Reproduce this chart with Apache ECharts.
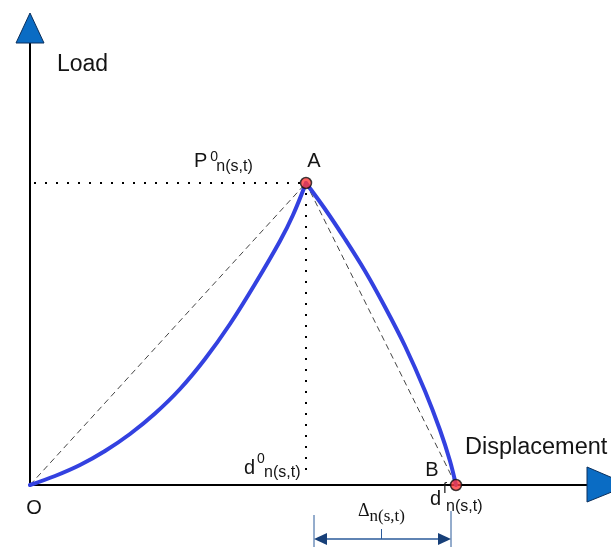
<!DOCTYPE html>
<html>
<head>
<meta charset="utf-8">
<script src="https://cdn.jsdelivr.net/npm/echarts@6/dist/echarts.min.js"></script>
<style>
  html, body { margin: 0; padding: 0; background: #fff; }
  #chart { width: 611px; height: 548px; }
</style>
</head>
<body>
<div id="chart"></div>
<script>
// Load–displacement law of a cohesive link:
// hardening branch O -> A (peak), softening branch A -> B (failure).
const peakDisp = 2.76;   // d0 n(s,t)
const peakLoad = 3.02;   // P0 n(s,t)
const failDisp = 4.26;   // df n(s,t)
const xMax = 5.57;
const yMax = 4.42;

// Hardening branch, O to A
const hardeningBranch = [
  [0, 0], [0.25, 0.09], [0.50, 0.20], [0.75, 0.34], [1.00, 0.51],
  [1.25, 0.715], [1.50, 0.96], [1.75, 1.26], [2.00, 1.61], [2.25, 2.01],
  [2.50, 2.44], [2.63, 2.70], [2.76, 3.02]
];
// Softening branch, A to B
const softeningBranch = [
  [2.76, 3.02], [2.95, 2.76], [3.15, 2.46], [3.35, 2.14], [3.55, 1.78],
  [3.75, 1.39], [3.95, 0.94], [4.10, 0.55], [4.20, 0.24], [4.26, 0]
];

const axisNames = ['Load', 'Displacement'];
const pointNames = ['O', 'A', 'B'];
const subIndex = 'n(s,t)';

const SANS = '"Liberation Sans", Arial, sans-serif';
const SERIF = '"Liberation Serif", "Times New Roman", serif';
const INK = '#141414';
const CURVE = '#3341e0';
const ARROW_FILL = '#0a6cc4';
const ARROW_EDGE = '#0b2f5c';
const DIM = '#2a5a9a';

const chart = echarts.init(document.getElementById('chart'), null, { renderer: 'canvas' });

const hiddenAxis = (max) => ({
  type: 'value', min: 0, max: max,
  axisLine: { show: true, onZero: false, lineStyle: { color: '#000', width: 2 } },
  axisTick: { show: false }, axisLabel: { show: false }, splitLine: { show: false }
});

chart.setOption({
  animation: false,
  backgroundColor: '#fff',
  grid: { left: 30, right: 24, top: 43, bottom: 63, containLabel: false },
  xAxis: hiddenAxis(xMax),
  yAxis: hiddenAxis(yMax),
  series: [
    { // secant O-A
      type: 'line', data: [[0, 0], [peakDisp, peakLoad]], symbol: 'none', silent: true, z: 2,
      lineStyle: { color: '#444', width: 1, type: [6, 4] }
    },
    { // secant A-B
      type: 'line', data: [[peakDisp, peakLoad], [failDisp, 0]], symbol: 'none', silent: true, z: 2,
      lineStyle: { color: '#444', width: 1, type: [6, 4] }
    },
    { // peak load guide
      type: 'line', data: [[0.04, peakLoad], [peakDisp - 0.05, peakLoad]], symbol: 'none', silent: true, z: 2,
      lineStyle: { color: '#000', width: 2, type: [2, 9] }
    },
    { // peak displacement guide
      type: 'line', data: [[peakDisp, peakLoad - 0.1], [peakDisp, 0.14]], symbol: 'none', silent: true, z: 2,
      lineStyle: { color: '#000', width: 2, type: [2, 9] }
    },
    {
      type: 'line', data: hardeningBranch, symbol: 'none', smooth: 0.35,
      silent: true, z: 3, lineStyle: { color: CURVE, width: 4, cap: 'round' }
    },
    {
      type: 'line', data: softeningBranch, symbol: 'none', smooth: 0.35,
      silent: true, z: 3, lineStyle: { color: CURVE, width: 4, cap: 'round' }
    },
    {
      type: 'scatter', data: [[peakDisp, peakLoad], [failDisp, 0]], symbol: 'circle', symbolSize: 11,
      silent: true, z: 5,
      itemStyle: { color: '#ff3b3b', borderColor: '#111', borderWidth: 1.5 }
    }
  ]
});

// ---- annotations -------------------------------------------------------
const toPx = (pt) => chart.convertToPixel({ gridIndex: 0 }, pt);
const measureCtx = document.createElement('canvas').getContext('2d');
function textWidth(str, size, family) {
  measureCtx.font = size + 'px ' + family;
  return measureCtx.measureText(str).width;
}
// text placed by its alphabetic baseline
function txt(str, x, base, size, family, align) {
  return {
    type: 'text', x: x, y: base - 0.31 * size, z: 100, silent: true,
    style: {
      text: str, fontSize: size, fontFamily: family || SANS, fill: INK,
      align: align || 'left', verticalAlign: 'middle'
    }
  };
}
// symbol with superscript and subscript
function indexed(main, sup, sub, x, base, o) {
  const fam = o.family || SANS;
  const w = textWidth(main, o.size, fam);
  const out = [txt(main, x, base, o.size, fam)];
  if (sup) out.push(txt(sup, x + w + o.supDx, base + o.supDy, o.supSize, fam));
  out.push(txt(sub, x + w + o.subDx, base + o.subDy, o.subSize, o.subFamily || fam));
  return out;
}

function buildGraphics() {
  const origin = toPx([0, 0]);
  const yTop = toPx([0, yMax]);
  const xEnd = toPx([xMax, 0]);
  const pA = toPx([peakDisp, peakLoad]);
  const pB = toPx([failDisp, 0]);
  const g = [];

  // axis arrow heads
  g.push({
    type: 'polygon', z: 50, silent: true,
    shape: { points: [[yTop[0] - 14, yTop[1]], [yTop[0] + 14, yTop[1]], [yTop[0], yTop[1] - 30]] },
    style: { fill: ARROW_FILL, stroke: ARROW_EDGE, lineWidth: 1 }
  });
  g.push({
    type: 'polygon', z: 50, silent: true,
    shape: { points: [[xEnd[0], xEnd[1] - 18], [xEnd[0], xEnd[1] + 17], [xEnd[0] + 42, xEnd[1]]] },
    style: { fill: ARROW_FILL, stroke: ARROW_EDGE, lineWidth: 1 }
  });

  // axis titles and point names
  g.push(txt(axisNames[0], 57, 72, 23));
  g.push(txt(axisNames[1], 465, 455, 23.5));
  g.push(txt(pointNames[0], origin[0] + 4, origin[1] + 30, 20, SANS, 'center'));
  g.push(txt(pointNames[1], pA[0] + 8, pA[1] - 15, 20, SANS, 'center'));
  g.push(txt(pointNames[2], pB[0] - 24, pB[1] - 8, 20, SANS, 'center'));

  // indexed quantities
  const sans = { size: 20, supSize: 14, subSize: 16 };
  g.push(...indexed('P', '0', subIndex, pA[0] - 112, pA[1] - 15,
    Object.assign({ supDx: 3, supDy: -7, subDx: 9, subDy: 4 }, sans)));
  g.push(...indexed('d', '0', subIndex, pA[0] - 62, origin[1] - 10,
    Object.assign({ supDx: 2, supDy: -12, subDx: 9, subDy: 3 }, sans)));
  g.push(...indexed('d', 'f', subIndex, pB[0] - 26, origin[1] + 21,
    Object.assign({ supDx: 2, supDy: -13, subDx: 5, subDy: 6 }, sans)));

  // dimension line for the softening length
  const yDim = 539;
  const xl = pA[0] + 8;
  const xr = pB[0] - 5;
  const xm = (xl + xr) / 2 - 1;
  const seg = (x1, y1, x2, y2, w) => ({
    type: 'line', z: 40, silent: true,
    shape: { x1: x1, y1: y1, x2: x2, y2: y2 },
    style: { stroke: DIM, lineWidth: w }
  });
  g.push(seg(xl, 515, xl, 547, 1));
  g.push(seg(xr, 511, xr, 547, 1));
  g.push(seg(xl + 6, yDim, xr - 6, yDim, 1.5));
  g.push(seg(xm, 529, xm, yDim, 1));
  g.push({
    type: 'polygon', z: 41, silent: true,
    shape: { points: [[xl, yDim], [xl + 13, yDim - 6], [xl + 13, yDim + 6]] },
    style: { fill: '#173f78' }
  });
  g.push({
    type: 'polygon', z: 41, silent: true,
    shape: { points: [[xr, yDim], [xr - 13, yDim - 6], [xr - 13, yDim + 6]] },
    style: { fill: '#173f78' }
  });
  g.push(...indexed('\u0394', null, subIndex, 358, 517, {
    family: SERIF, size: 18, subSize: 17, subFamily: SERIF, subDx: 0, subDy: 5
  }));
  return g;
}

chart.setOption({ graphic: buildGraphics() });
</script>
</body>
</html>
